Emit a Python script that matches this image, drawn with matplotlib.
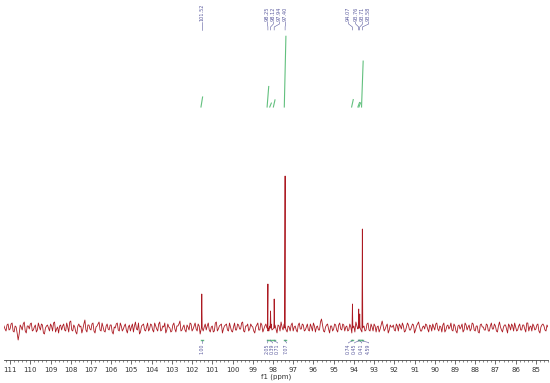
import numpy as np
import matplotlib
matplotlib.use("Agg")
import matplotlib.pyplot as plt
from matplotlib.ticker import MultipleLocator

# --- data ---
# baseline noise, one sample every 0.1 ppm starting at 111.3 ppm (pixel-ish units)
noise = [
    2, -3, 4, -1, 5, -4, 1, -12, 3, -2, 6, -5, 2, 4, -3,
    1, -4, 5, -2, 3, -6, 2, 0, 4, -3, 6, -1, -5, 3, 2,
    -2, 5, -4, 7, -3, 1, -6, 4, 2, -1, 8, -4, 3, -2, 5,
    -5, 2, 6, -3, 1, -4, 4, -2, 3, -6, 0, 5, -3, 2, -1,
    4, -5, 3, 1, -4, 6, -2, -6, 2, 4, -3, 5, -1, 3, -4,
    2, -3, 6, -2, 1, -5, 4, 0, -3, 5, -4, 2, 7, -2, 3,
    -4, 1, 5, -3, 2, -1, 4, -6, 3, 1, -2, 5, -4, 2, -3,
    6, -1, 3, -5, 2, 4, -3, 1, -4, 5, -2, 3, -1, 6, -4,
    2, -3, 4, 1, -5, 3, -2, 5, -4, 2, 0, -3, 4, -1, 3,
    -5, 2, 6, -2, 3, -4, 1, 3, -3, 2, -4, 5, -1, 3, -2,
    4, -3, 1, 5, -4, 2, -2, 9, -3, 1, 4, -5, 2, -1, 3,
    -4, 5, -2, 3, 1, -3, 4, -5, 2, 6, -1, 3, -4, 2, -2,
    5, -3, 1, 4, -4, 2, -1, 7, -3, 2, -5, 3, 1, -2, 4,
    -3, 2, 5, -4, 1, 3, -2, 4, -5, 2, 6, -3, 1, -1, 3,
    -4, 2, 4, -2, 5, -3, 1, 3, -4, 2, -1, 5, -3, 2, -5,
    3, 1, -4, 5, -2, 3, -1, 4, -3, 2, -5, 4, 1, -2, 3,
    -3, 5, -1, 2, -4, 6, -2, 1, 3, -5, 2, 4, -3, 1, -2,
    4, -2, 3, -4, 5, 1, -3, 2, -1, 4, -5, 3, 2, -3, 1,
]
# samples halfway between the ones above (111.25, 111.15, ...)
noise_mid = [
    -1, 3, -2, 4, -3, 2, -5, -6, 1, 4, -3, 2, -1, 5, -2,
    3, -2, 1, 4, -5, 0, 3, -3, 2, 5, -4, 1, 2, -2, 4,
    -3, 1, 6, -2, 3, -4, 2, 1, -5, 4, -2, 3, -1, 4, -3,
    1, 4, -2, 5, -3, 2, -1, 3, -4, 1, 4, -2, 5, -3, 2,
    -2, 1, -3, 4, 2, -1, 5, -4, 3, -2, 1, -3, 4, -2, 5,
    -1, 4, -3, 2, 5, -2, 1, -4, 3, -1, 2, 4, -3, 1, -2,
    3, -2, 4, -1, 5, -3, 2, -1, -3, 4, 2, -2, 1, -4, 5,
    -3, 2, 4, -1, 3, -2, 5, -3, 1, -2, 4, -1, 5, -3, 2,
    4, -1, 2, -3, 1, 5, -2, 3, -1, 4, -3, 2, -2, 5, -1,
    3, -3, 1, 4, -2, 2, -3, 5, 1, -2, 3, -1, 4, -3, 1,
    -2, 4, -3, 2, 1, -2, 6, 3, -4, 3, -1, 2, -3, 4, -2,
    3, -1, 4, -3, 2, -2, 1, 3, -4, 2, 4, -2, 1, -3, 4,
    -2, 4, -3, 2, 1, -4, 3, 2, -1, 4, -2, 1, 3, -3, 2,
    4, -1, 2, -3, 5, -2, 1, 3, -2, 4, 1, -3, 2, 4, -1,
    3, -3, 1, 4, -1, 2, -4, 5, -2, 3, 1, -2, 4, -3, 2,
    -1, 4, -2, 3, 1, -3, 5, -2, 2, -4, 3, 1, -2, 4, -3,
    2, -1, 4, -3, 2, 1, -4, 3, -1, 4, -2, 2, 5, -3, 2,
    -2, 3, -1, 5, -3, 2, 4, -2, 3, -3, 1, 4, -2, 3, -1,
]
noise_start = 111.3
noise_step = 0.1

peak_ppm = [101.52, 98.25, 98.12, 97.94, 97.40, 94.07, 93.76, 93.71, 93.58]
peak_height = [34, 44, 17, 29, 152, 24, 19, 14, 99]
peak_labels = ["101.52", "98.25", "98.12", "97.94", "97.40", "94.07", "93.76", "93.71", "93.58"]
# where each rotated label sits (ppm)
label_ppm = [101.52, 98.27, 97.98, 97.68, 97.38, 94.26, 93.91, 93.57, 93.27]

integral_ppm = [101.52, 98.25, 98.12, 97.94, 97.40, 94.07, 93.76, 93.71, 93.58]
integral_val = [1.00, 2.05, 0.39, 0.71, 7.07, 0.74, 0.45, 0.41, 4.59]
integral_text = ["1.00", "2.05", "0.39", "0.71", "7.07", "0.74", "0.45", "0.41", "4.59"]
integral_label_ppm = [101.52, 98.27, 98.02, 97.78, 97.33, 94.26, 93.96, 93.61, 93.27]

spec_color = "#ac1a22"
int_color = "#62c07e"
lab_color = "#5b5b9e"

# build the trace: baseline samples plus a sharp spike for every peak
base_x = noise_start - noise_step * np.arange(len(noise))
xs = list(base_x) + list(base_x - noise_step / 2)
ys = list(noise) + list(noise_mid)
for p, h in zip(peak_ppm, peak_height):
    xs += [p + 0.02, p, p - 0.02]
    ys += [0, h, 0]
order = np.argsort(xs)[::-1]
xs = np.array(xs)[order]
ys = np.array(ys)[order]

fig = plt.figure(figsize=(5.5, 3.83), dpi=100)
ax = fig.add_axes([4 / 550, 23 / 383, 544 / 550, 360 / 383])
ax.plot(xs, ys, color=spec_color, linewidth=0.6)

ax.set_xlim(111.3, 84.4)
ax.set_ylim(-32, 328)

# integral traces (top)
int_base = 221
for p, v in zip(integral_ppm, integral_val):
    ax.plot([p + 0.04, p - 0.04], [int_base, int_base + 10 * v], color=int_color, linewidth=0.8)

# peak labels with connectors
for p, lp, t in zip(peak_ppm, label_ppm, peak_labels):
    ax.text(lp, 307, t, rotation=90, ha="center", va="bottom", fontsize=3.6, color=lab_color)
    ax.plot([lp, lp, p, p], [306, 304, 301, 298], color=lab_color, linewidth=0.4)

# integral marks and values (bottom)
for p, lp, t in zip(integral_ppm, integral_label_ppm, integral_text):
    ax.plot([p + 0.05, p - 0.05], [-12, -12], color=int_color, linewidth=1.0)
    ax.plot([p, p, lp, lp], [-12, -13, -14.5, -15], color=lab_color, linewidth=0.4)
    ax.text(lp, -15.5, t, rotation=90, ha="center", va="top", fontsize=3.4, color=lab_color)

for s in ["top", "left", "right"]:
    ax.spines[s].set_visible(False)
ax.spines["bottom"].set_linewidth(0.6)
ax.spines["bottom"].set_color("#444444")
ax.set_yticks([])
ax.xaxis.set_major_locator(MultipleLocator(1))
ax.xaxis.set_minor_locator(MultipleLocator(0.2))
ax.tick_params(axis="x", which="major", length=3, width=0.5, labelsize=5, pad=2, colors="#333333")
ax.tick_params(axis="x", which="minor", length=1.5, width=0.4, colors="#333333")
ax.set_xlabel("f1 (ppm)", fontsize=5, labelpad=0.5, color="#333333")

fig.savefig("out.png", dpi=100)
